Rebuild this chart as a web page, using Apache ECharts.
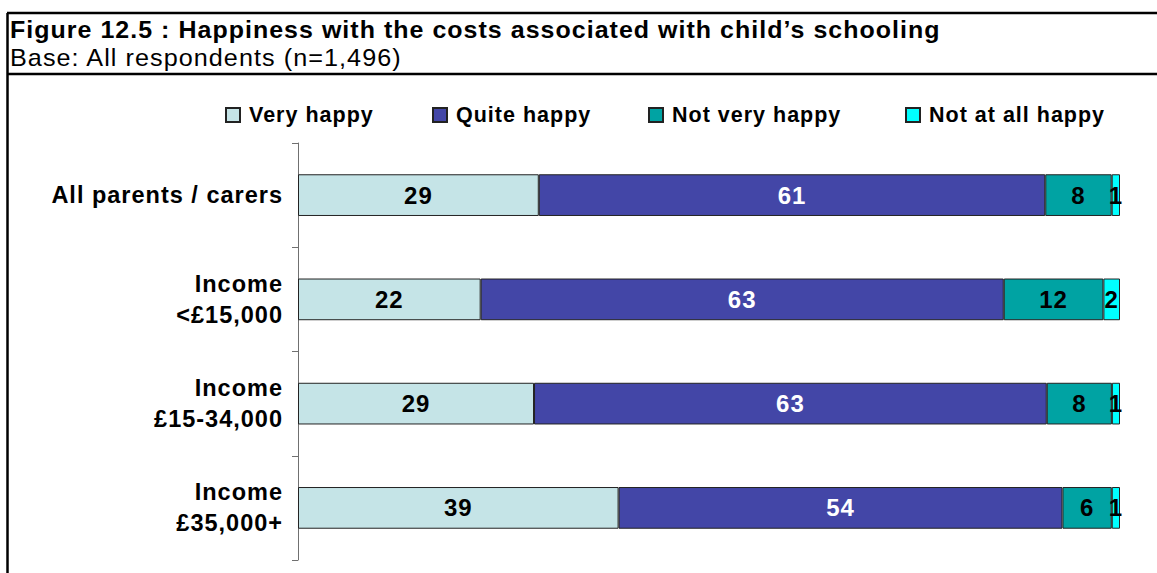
<!DOCTYPE html>
<html>
<head>
<meta charset="utf-8">
<script src="https://cdn.jsdelivr.net/npm/echarts@6/dist/echarts.min.js"></script>
<style>
  html, body { margin: 0; padding: 0; background: #fff; }
  #chart { width: 1157px; height: 573px; }
  /* slightly tracked-out lettering for all chart text */
  #chart svg text { letter-spacing: 1px; }
</style>
</head>
<body>
<div id="chart"></div>
<script>
// Survey groups (top to bottom) and the percentage answering each option
const categories = ['All parents / carers', 'Income\n<£15,000', 'Income\n£15-34,000', 'Income\n£35,000+'];
const seriesNames = ['Very happy', 'Quite happy', 'Not very happy', 'Not at all happy'];
const veryHappy = [29, 22, 29, 39];
const quiteHappy = [61, 63, 63, 54];
const notVeryHappy = [8, 12, 8, 6];
const notAtAllHappy = [1, 2, 1, 1];

const colors = ['#C5E4E7', '#4346A7', '#00A3A3', '#00FFFF'];
const labelColors = ['#000', '#fff', '#000', '#000'];
const FONT = '"Liberation Sans", Arial, sans-serif';

const values = [veryHappy, quiteHappy, notVeryHappy, notAtAllHappy];
// Each row is drawn as a 100% stacked bar: segment length is its share of the row total
const rowTotals = categories.map((_, i) => values.reduce((s, arr) => s + arr[i], 0));

const series = values.map((arr, k) => ({
  name: seriesNames[k],
  type: 'bar',
  stack: 'total',
  barWidth: '40%',
  itemStyle: { color: colors[k], borderColor: '#222', borderWidth: 1 },
  label: {
    show: true,
    position: 'inside',
    color: labelColors[k],
    fontFamily: FONT,
    fontWeight: 'bold',
    fontSize: 24,
    formatter: p => p.data.raw
  },
  data: arr.map((v, i) => ({ value: v / rowTotals[i] * 100, raw: v }))
}));

// one legend block per series so each entry sits at its own x position
const legendLeft = [220, 427, 643, 900];
const legends = seriesNames.map((name, k) => ({
  top: 99,
  left: legendLeft[k],
  itemWidth: 14,
  itemHeight: 14,
  icon: 'rect',
  textStyle: { fontFamily: FONT, fontWeight: 'bold', fontSize: 21.5, color: '#000', padding: [0, 0, 0, 4] },
  data: [name]
}));

const chart = echarts.init(document.getElementById('chart'), null, { renderer: 'svg' });
chart.setOption({
  animation: false,
  backgroundColor: '#fff',
  color: colors,
  graphic: [
    { type: 'line', shape: { x1: 7, y1: 13, x2: 1157, y2: 13 }, style: { stroke: '#000', lineWidth: 2.5 } },
    { type: 'line', shape: { x1: 7, y1: 74, x2: 1157, y2: 74 }, style: { stroke: '#000', lineWidth: 2.5 } },
    { type: 'line', shape: { x1: 7.5, y1: 13, x2: 7.5, y2: 573 }, style: { stroke: '#000', lineWidth: 2.5 } },
    { type: 'text', x: 10, y: 18, scaleX: 1.04, style: { text: 'Figure 12.5 : Happiness with the costs associated with child\u2019s schooling', fontFamily: FONT, fontWeight: 'bold', fontSize: 24, fill: '#000' } },
    { type: 'text', x: 10, y: 46, scaleX: 1.05, style: { text: 'Base: All respondents (n=1,496)', fontFamily: FONT, fontSize: 24, fill: '#000' } }
  ],
  legend: legends,
  grid: { left: 298, right: 37, top: 143, bottom: 13, containLabel: false },
  xAxis: { type: 'value', min: 0, max: 100, show: false },
  yAxis: {
    type: 'category',
    inverse: true,
    data: categories,
    axisLine: { show: true, lineStyle: { color: '#707070', width: 1 } },
    axisTick: { show: true, length: 6, lineStyle: { color: '#707070' } },
    axisLabel: { fontFamily: FONT, fontWeight: 'bold', fontSize: 23.5, color: '#000', margin: 15, lineHeight: 31, align: 'right' }
  },
  series
});
</script>
</body>
</html>
